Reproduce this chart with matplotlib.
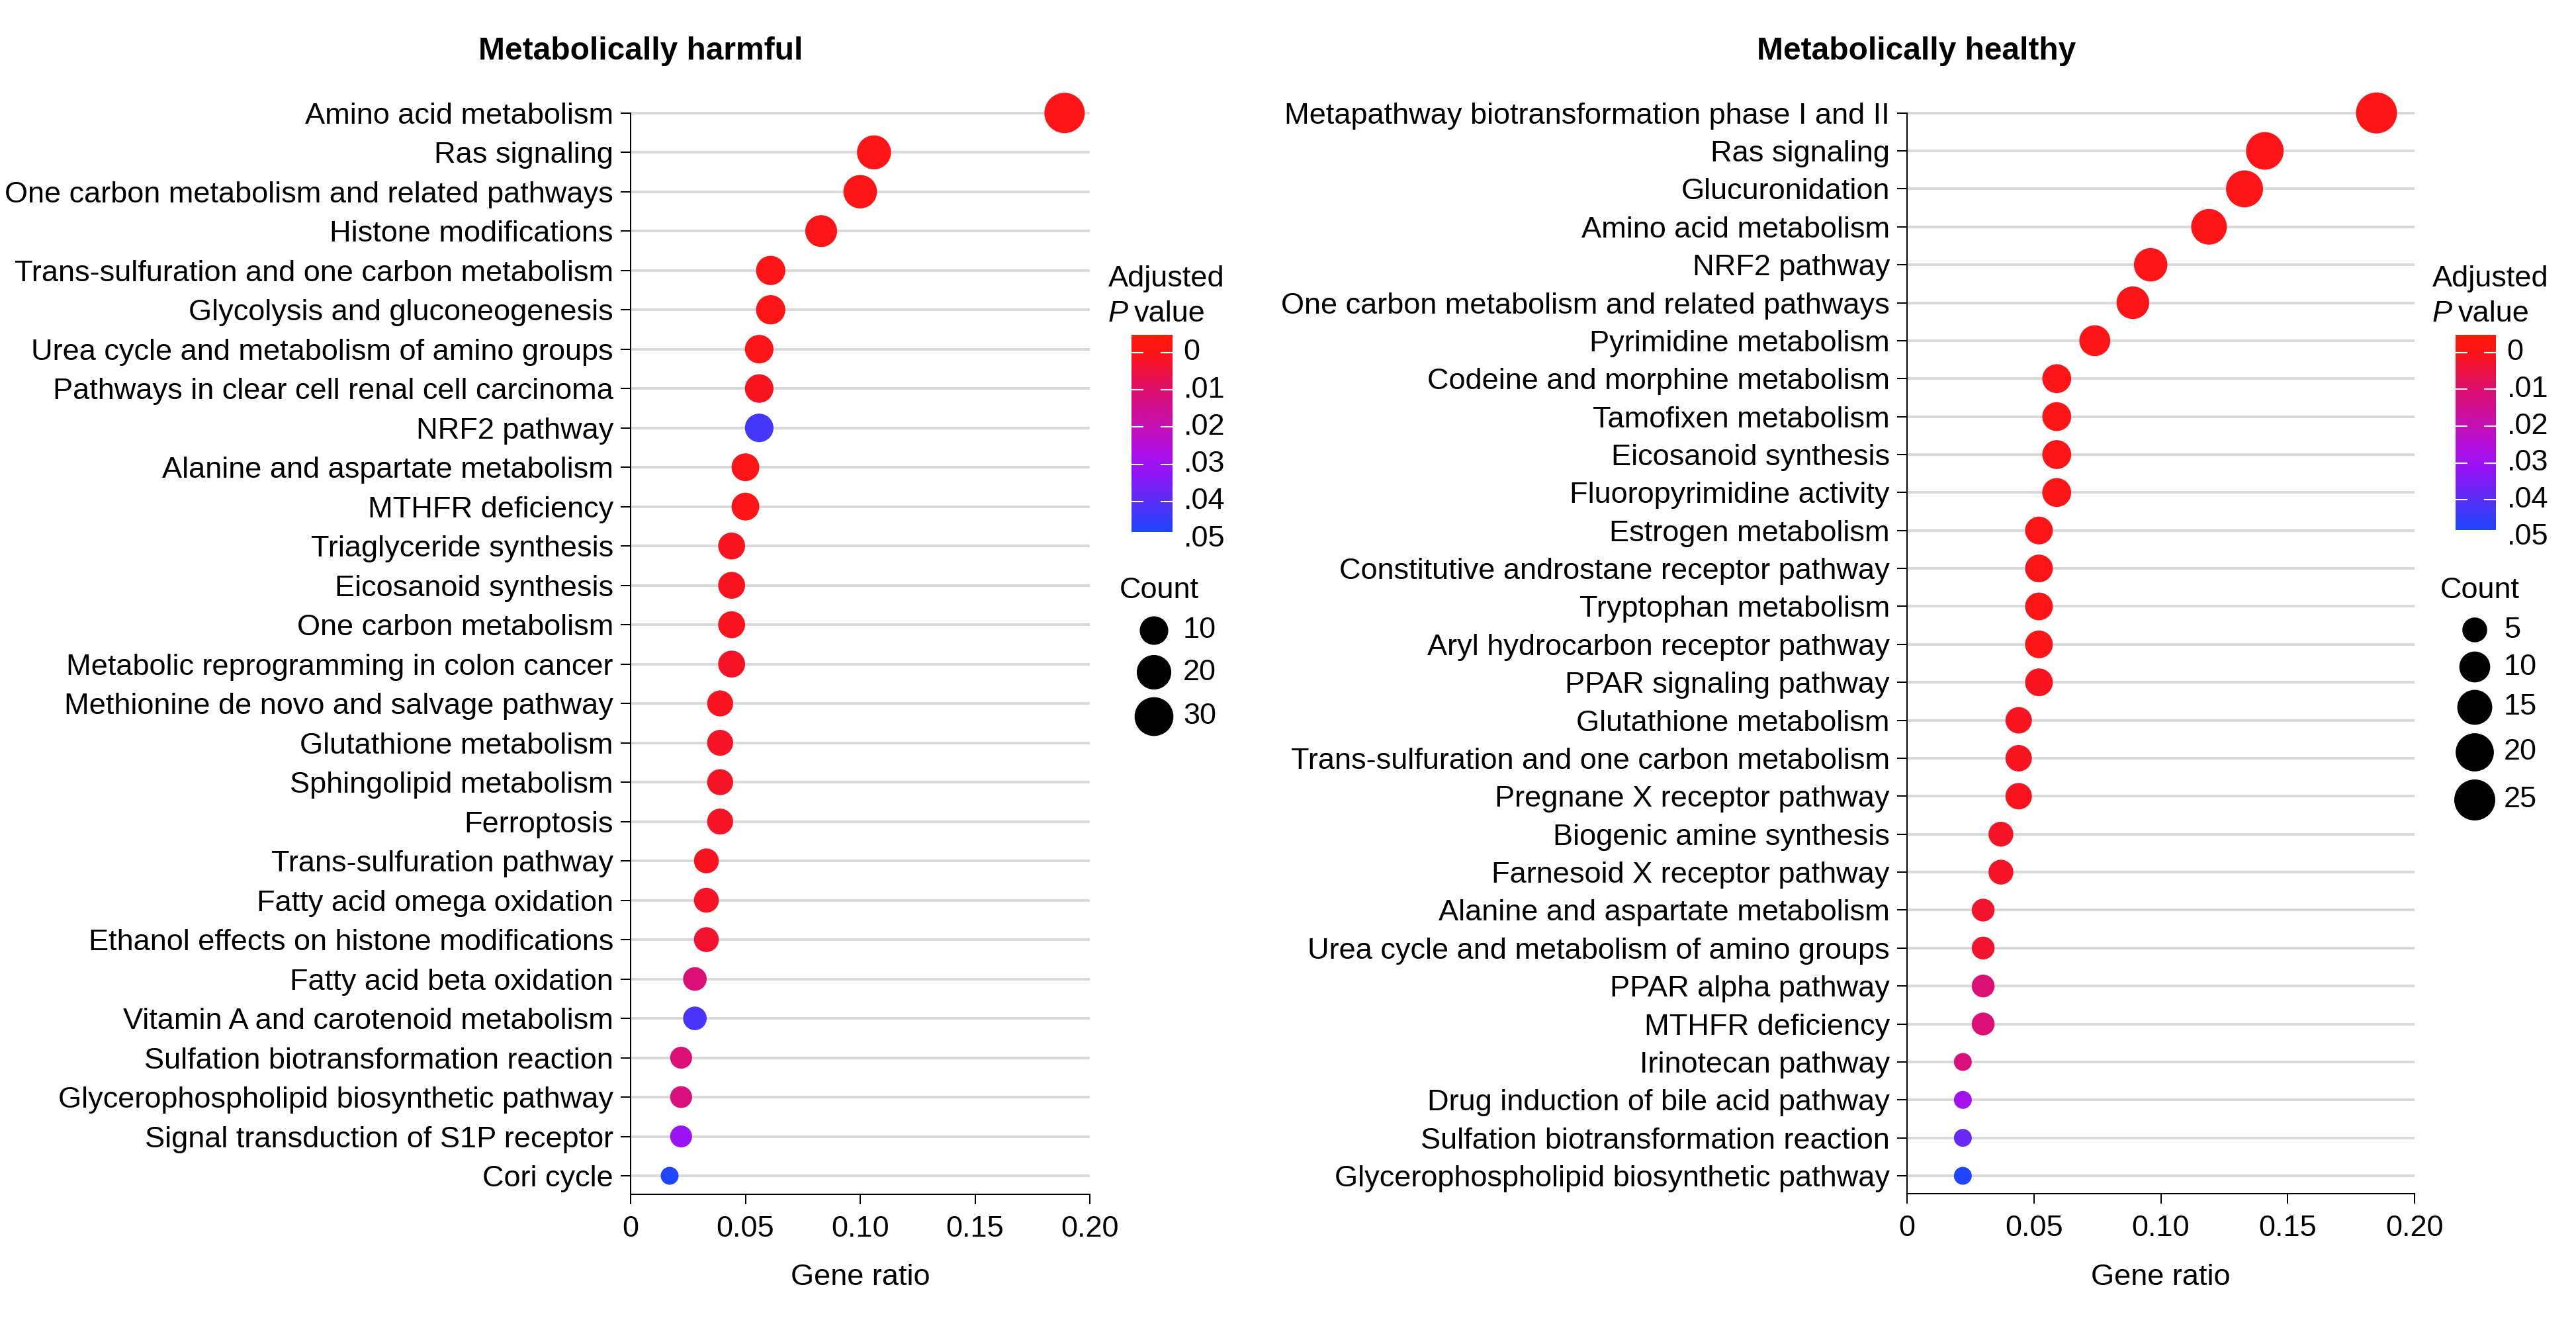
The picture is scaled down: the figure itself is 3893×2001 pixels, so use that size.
import matplotlib
matplotlib.use('Agg')
import matplotlib.pyplot as plt
from matplotlib.colors import LinearSegmentedColormap, Normalize
from matplotlib.transforms import blended_transform_factory
import numpy as np

# narrow-ish sans close to the reference
plt.rcParams['font.family'] = ['Liberation Sans', 'DejaVu Sans']

# ---- data: metabolically harmful ----
harm_labels = [
    'Amino acid metabolism', 'Ras signaling', 'One carbon metabolism and related pathways',
    'Histone modifications', 'Trans-sulfuration and one carbon metabolism',
    'Glycolysis and gluconeogenesis', 'Urea cycle and metabolism of amino groups',
    'Pathways in clear cell renal cell carcinoma', 'NRF2 pathway',
    'Alanine and aspartate metabolism', 'MTHFR deficiency', 'Triaglyceride synthesis',
    'Eicosanoid synthesis', 'One carbon metabolism', 'Metabolic reprogramming in colon cancer',
    'Methionine de novo and salvage pathway', 'Glutathione metabolism',
    'Sphingolipid metabolism', 'Ferroptosis', 'Trans-sulfuration pathway',
    'Fatty acid omega oxidation', 'Ethanol effects on histone modifications',
    'Fatty acid beta oxidation', 'Vitamin A and carotenoid metabolism',
    'Sulfation biotransformation reaction', 'Glycerophospholipid biosynthetic pathway',
    'Signal transduction of S1P receptor', 'Cori cycle']
harm_ratio = [0.189, 0.106, 0.100, 0.083, 0.061, 0.061, 0.056, 0.056, 0.056,
              0.050, 0.050, 0.044, 0.044, 0.044, 0.044, 0.039, 0.039, 0.039, 0.039,
              0.033, 0.033, 0.033, 0.028, 0.028, 0.022, 0.022, 0.022, 0.017]
harm_count = [34, 19, 18, 15, 11, 11, 10, 10, 10, 9, 9, 8, 8, 8, 8, 7, 7, 7, 7,
              6, 6, 6, 5, 5, 4, 4, 4, 3]
harm_padj = [0.0, 0.0, 0.0, 0.0, 0.0, 0.0, 0.0, 0.001, 0.043, 0.0, 0.0, 0.001,
             0.001, 0.001, 0.002, 0.001, 0.002, 0.002, 0.002, 0.001, 0.002, 0.003,
             0.011, 0.042, 0.011, 0.012, 0.031, 0.048]

# ---- data: metabolically healthy ----
heal_labels = [
    'Metapathway biotransformation phase I and II', 'Ras signaling', 'Glucuronidation',
    'Amino acid metabolism', 'NRF2 pathway', 'One carbon metabolism and related pathways',
    'Pyrimidine metabolism', 'Codeine and morphine metabolism', 'Tamofixen metabolism',
    'Eicosanoid synthesis', 'Fluoropyrimidine activity', 'Estrogen metabolism',
    'Constitutive androstane receptor pathway', 'Tryptophan metabolism',
    'Aryl hydrocarbon receptor pathway', 'PPAR signaling pathway', 'Glutathione metabolism',
    'Trans-sulfuration and one carbon metabolism', 'Pregnane X receptor pathway',
    'Biogenic amine synthesis', 'Farnesoid X receptor pathway',
    'Alanine and aspartate metabolism', 'Urea cycle and metabolism of amino groups',
    'PPAR alpha pathway', 'MTHFR deficiency', 'Irinotecan pathway',
    'Drug induction of bile acid pathway', 'Sulfation biotransformation reaction',
    'Glycerophospholipid biosynthetic pathway']
heal_ratio = [0.185, 0.141, 0.133, 0.119, 0.096, 0.089, 0.074, 0.059, 0.059, 0.059,
              0.059, 0.052, 0.052, 0.052, 0.052, 0.052, 0.044, 0.044, 0.044, 0.037,
              0.037, 0.030, 0.030, 0.030, 0.030, 0.022, 0.022, 0.022, 0.022]
heal_count = [25, 19, 18, 16, 13, 12, 10, 8, 8, 8, 8, 7, 7, 7, 7, 7, 6, 6, 6, 5, 5,
              4, 4, 4, 4, 3, 3, 3, 3]
heal_padj = [0.0, 0.0, 0.0, 0.0, 0.0, 0.0, 0.0, 0.0, 0.0, 0.0, 0.0, 0.0, 0.0, 0.0,
             0.0, 0.001, 0.001, 0.001, 0.001, 0.002, 0.002, 0.003, 0.003, 0.011,
             0.011, 0.012, 0.029, 0.038, 0.048]

x_ticks = [0, 0.05, 0.10, 0.15, 0.20]
x_ticklabels = ['0', '0.05', '0.10', '0.15', '0.20']
p_ticks = [0, 0.01, 0.02, 0.03, 0.04, 0.05]
p_ticklabels = ['0', '.01', '.02', '.03', '.04', '.05']
harm_legend_counts = [10, 20, 30]
heal_legend_counts = [5, 10, 15, 20, 25]

# colour scale (red -> purple -> blue)
p_lo, p_hi = -0.0048, 0.0482
stops = [(-0.0048, '#FF1A0A'), (0.0, '#FC1416'), (0.01, '#DD0F6E'), (0.02, '#C40FB4'),
         (0.027, '#AE10E8'), (0.032, '#9414F6'), (0.04, '#5A2EF7'), (0.0482, '#1F45FF')]
cmap = LinearSegmentedColormap.from_list(
    'pval', [((v - p_lo) / (p_hi - p_lo), c) for v, c in stops])
norm = Normalize(p_lo, p_hi)

W, H = 3893, 2001
fig = plt.figure(figsize=(W / 100, H / 100), dpi=100)
PT = 0.72  # px -> pt at 100 dpi
FS = 32.5
LW = 2 * PT


def px_axes(l, t, r, b):
    return fig.add_axes([l / W, 1 - b / H, (r - l) / W, (b - t) / H])


def size_pts(counts, cmin, cmax, dmin, dmax):
    c = np.asarray(counts, dtype=float)
    d = dmin + (dmax - dmin) * np.sqrt((c - cmin) / (cmax - cmin))
    return (d * PT) ** 2


ov = fig.add_axes([0, 0, 1, 1], zorder=10)
ov.set_xlim(0, W)
ov.set_ylim(H, 0)
ov.axis('off')


def panel(box, labels, ratio, count, padj, srange, title, title_x,
          cbar_box, leg_x, leg_counts, leg_ys):
    l, t, r, b = box
    ax = px_axes(l, t, r, b)
    n = len(labels)
    y = np.arange(n)
    ax.hlines(y, 0, 0.2, color='#d9d9d9', lw=4 * PT, zorder=1)
    ax.scatter(ratio, y, s=size_pts(count, *srange), c=padj, cmap=cmap, norm=norm,
               edgecolors='none', zorder=3, clip_on=False)
    ax.set_xlim(0, 0.2)
    ax.set_ylim(n - 1 + 0.47, -0.5)
    ax.set_yticks(y)
    ax.set_yticklabels(labels)
    ax.set_xticks(x_ticks)
    ax.set_xticklabels(x_ticklabels)
    for s in ['top', 'right']:
        ax.spines[s].set_visible(False)
    ax.spines['left'].set_bounds(0, n - 1 + 0.47)
    ax.spines['left'].set_linewidth(LW)
    ax.spines['bottom'].set_linewidth(LW)
    ax.tick_params(axis='both', length=15 * PT, width=LW, labelsize=FS)
    ax.tick_params(axis='y', pad=8)
    ax.tick_params(axis='x', pad=12)
    ax.patch.set_alpha(0)

    ov.text(title_x, 77, title, ha='center', va='center', fontsize=34.5, fontweight='bold')
    ov.text((l + r) / 2, 1931, 'Gene ratio', ha='center', va='center', fontsize=FS)

    # colour bar
    cl, ct, cr, cb = cbar_box
    cax = px_axes(cl, ct, cr, cb)
    grad = np.linspace(p_lo, p_hi, 300).reshape(-1, 1)
    cax.imshow(grad, aspect='auto', cmap=cmap, norm=norm, extent=[0, 1, p_hi, p_lo],
               origin='upper')
    cax.set_xlim(0, 1)
    cax.set_ylim(p_hi, p_lo)
    cax.axis('off')
    tr = blended_transform_factory(cax.transAxes, cax.transData)
    for v, lab in zip(p_ticks, p_ticklabels):
        if v <= p_hi:
            cax.plot([0, 0.28], [v, v], color='white', lw=1.5)
            cax.plot([0.72, 1], [v, v], color='white', lw=1.5)
        cax.text(1.27, v, lab, transform=tr, ha='left', va='center', fontsize=FS)
    tl = cl - 35
    ov.text(tl, 422, 'Adjusted', ha='left', va='center', fontsize=FS)
    ptxt = ov.text(tl, 475, 'P', ha='left', va='center', fontsize=FS, style='italic')
    fig.canvas.draw()
    bb = ptxt.get_window_extent()
    ov.text(bb.x1 + 9, 475, 'value', ha='left', va='center', fontsize=FS)

    # count legend
    ov.text(leg_x - 52, 893, 'Count', ha='left', va='center', fontsize=FS)
    ov.scatter([leg_x] * len(leg_counts), leg_ys, s=size_pts(leg_counts, *srange),
               color='black', edgecolors='none')
    for c, yy in zip(leg_counts, leg_ys):
        ov.text(leg_x + 44, yy, str(c), ha='left', va='center', fontsize=FS)


panel((953, 141, 1647, 1805), harm_labels, harm_ratio, harm_count, harm_padj,
      (3, 34, 27, 61), 'Metabolically harmful', 968,
      (1710, 506, 1772, 804), 1744, harm_legend_counts, [953, 1016, 1083])
panel((2882, 142, 3649, 1804), heal_labels, heal_ratio, heal_count, heal_padj,
      (3, 25, 27, 62), 'Metabolically healthy', 2896,
      (3711, 506, 3772, 801), 3740, heal_legend_counts, [952, 1008, 1069, 1137, 1209])

fig.savefig('out.png', dpi=100)
